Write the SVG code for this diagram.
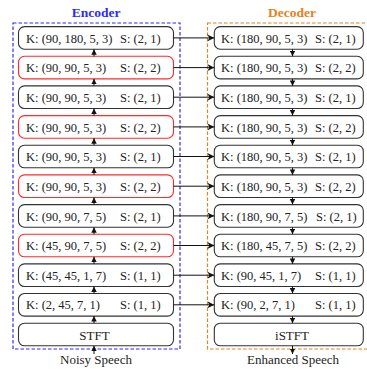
<svg xmlns="http://www.w3.org/2000/svg" width="367" height="369" viewBox="0 0 367 369">
  <defs>
    <style>
      .t { font-family: "Liberation Serif", "DejaVu Serif", serif; font-size: 12.5px; fill: #222; }
      .lbl { font-family: "Liberation Serif", "DejaVu Serif", serif; font-size: 13px; fill: #222; text-anchor: middle; }
      .ttl { font-family: "Liberation Serif", "DejaVu Serif", serif; font-size: 13.5px; font-weight: bold; text-anchor: middle; }
      .nb { fill: #fff; stroke: #333; stroke-width: 1.1; }
      .nr { fill: #fff; stroke: #ff2a2a; stroke-width: 1.1; }
      .c { stroke: #111; stroke-width: 1; fill: none; }
    </style>
    <marker id="hs" viewBox="0 0 10 10" refX="10" refY="5" markerWidth="7" markerHeight="7" markerUnits="userSpaceOnUse" orient="auto">
      <path d="M0,0 L10,5 L0,10 L3,5 Z" fill="#111"/>
    </marker>
    <marker id="hv" viewBox="0 0 10 10" refX="10" refY="5" markerWidth="5.5" markerHeight="5.5" markerUnits="userSpaceOnUse" orient="auto">
      <path d="M0,0 L10,5 L0,10 Z" fill="#111"/>
    </marker>
  </defs>

  <!-- section frames -->
  <g id="encoder-frame">
    <rect x="13" y="23" width="167" height="326" fill="none" stroke="#2b2bff" stroke-width="1.2" stroke-dasharray="3.5 2"/>
    <text class="ttl" x="96" y="17" fill="#2b2bff">Encoder</text>
  </g>
  <g id="decoder-frame">
    <rect x="207.5" y="23" width="170" height="326" fill="none" stroke="#e8801e" stroke-width="1.2" stroke-dasharray="3.5 2"/>
    <text class="ttl" x="292" y="17" fill="#e8801e">Decoder</text>
  </g>

  <!-- encoder layers -->
  <g id="enc0"><rect class="nb" x="18.5" y="26.6" width="155" height="22.6" rx="6"/><text class="t" x="26" y="42.5">K: (90, 180, 5, 3)</text><text class="t" x="120" y="42.5">S: (2, 1)</text></g>
  <g id="enc1"><rect class="nr" x="18.5" y="56.3" width="155" height="22.6" rx="6"/><text class="t" x="26" y="72.2">K: (90, 90, 5, 3)</text><text class="t" x="120" y="72.2">S: (2, 2)</text></g>
  <g id="enc2"><rect class="nb" x="18.5" y="85.9" width="155" height="22.6" rx="6"/><text class="t" x="26" y="101.8">K: (90, 90, 5, 3)</text><text class="t" x="120" y="101.8">S: (2, 1)</text></g>
  <g id="enc3"><rect class="nr" x="18.5" y="115.6" width="155" height="22.6" rx="6"/><text class="t" x="26" y="131.5">K: (90, 90, 5, 3)</text><text class="t" x="120" y="131.5">S: (2, 2)</text></g>
  <g id="enc4"><rect class="nb" x="18.5" y="145.2" width="155" height="22.6" rx="6"/><text class="t" x="26" y="161.1">K: (90, 90, 5, 3)</text><text class="t" x="120" y="161.1">S: (2, 1)</text></g>
  <g id="enc5"><rect class="nr" x="18.5" y="174.9" width="155" height="22.6" rx="6"/><text class="t" x="26" y="190.8">K: (90, 90, 5, 3)</text><text class="t" x="120" y="190.8">S: (2, 2)</text></g>
  <g id="enc6"><rect class="nb" x="18.5" y="204.6" width="155" height="22.6" rx="6"/><text class="t" x="26" y="220.5">K: (90, 90, 7, 5)</text><text class="t" x="120" y="220.5">S: (2, 1)</text></g>
  <g id="enc7"><rect class="nr" x="18.5" y="234.2" width="155" height="22.6" rx="6"/><text class="t" x="26" y="250.1">K: (45, 90, 7, 5)</text><text class="t" x="120" y="250.1">S: (2, 2)</text></g>
  <g id="enc8"><rect class="nb" x="18.5" y="263.9" width="155" height="22.6" rx="6"/><text class="t" x="26" y="279.8">K: (45, 45, 1, 7)</text><text class="t" x="120" y="279.8">S: (1, 1)</text></g>
  <g id="enc9"><rect class="nb" x="18.5" y="293.5" width="155" height="22.6" rx="6"/><text class="t" x="26" y="309.4">K: (2, 45, 7, 1)</text><text class="t" x="120" y="309.4">S: (1, 1)</text></g>
  <g id="stft"><rect class="nb" x="18.5" y="323.2" width="155" height="22.6" rx="6"/><text class="lbl" x="94.5" y="339.5" font-size="14">STFT</text></g>

  <!-- decoder layers -->
  <g id="dec0"><rect class="nb" x="214.3" y="26.6" width="149" height="22.6" rx="6"/><text class="t" x="221" y="42.5">K: (180, 90, 5, 3)</text><text class="t" x="315" y="42.5">S: (2, 1)</text></g>
  <g id="dec1"><rect class="nb" x="214.3" y="56.3" width="149" height="22.6" rx="6"/><text class="t" x="221" y="72.2">K: (180, 90, 5, 3)</text><text class="t" x="315" y="72.2">S: (2, 2)</text></g>
  <g id="dec2"><rect class="nb" x="214.3" y="85.9" width="149" height="22.6" rx="6"/><text class="t" x="221" y="101.8">K: (180, 90, 5, 3)</text><text class="t" x="315" y="101.8">S: (2, 1)</text></g>
  <g id="dec3"><rect class="nb" x="214.3" y="115.6" width="149" height="22.6" rx="6"/><text class="t" x="221" y="131.5">K: (180, 90, 5, 3)</text><text class="t" x="315" y="131.5">S: (2, 2)</text></g>
  <g id="dec4"><rect class="nb" x="214.3" y="145.2" width="149" height="22.6" rx="6"/><text class="t" x="221" y="161.1">K: (180, 90, 5, 3)</text><text class="t" x="315" y="161.1">S: (2, 1)</text></g>
  <g id="dec5"><rect class="nb" x="214.3" y="174.9" width="149" height="22.6" rx="6"/><text class="t" x="221" y="190.8">K: (180, 90, 5, 3)</text><text class="t" x="315" y="190.8">S: (2, 2)</text></g>
  <g id="dec6"><rect class="nb" x="214.3" y="204.6" width="149" height="22.6" rx="6"/><text class="t" x="221" y="220.5">K: (180, 90, 7, 5)</text><text class="t" x="316" y="220.5">S: (2, 1)</text></g>
  <g id="dec7"><rect class="nb" x="214.3" y="234.2" width="149" height="22.6" rx="6"/><text class="t" x="221" y="250.1">K: (180, 45, 7, 5)</text><text class="t" x="315" y="250.1">S: (2, 2)</text></g>
  <g id="dec8"><rect class="nb" x="214.3" y="263.9" width="149" height="22.6" rx="6"/><text class="t" x="221" y="279.8">K: (90, 45, 1, 7)</text><text class="t" x="315" y="279.8">S: (1, 1)</text></g>
  <g id="dec9"><rect class="nb" x="214.3" y="293.5" width="149" height="22.6" rx="6"/><text class="t" x="221" y="309.4">K: (90, 2, 7, 1)</text><text class="t" x="315" y="309.4">S: (1, 1)</text></g>
  <g id="istft"><rect class="nb" x="214.3" y="323.2" width="149" height="22.6" rx="6"/><text class="lbl" x="292" y="339.5" font-size="14">iSTFT</text></g>

  <!-- io labels -->
  <g id="in-label"><text class="lbl" x="96" y="363.5">Noisy Speech</text></g>
  <g id="out-label"><text class="lbl" x="293" y="363.5">Enhanced Speech</text></g>

  <!-- connectors -->
  <g id="connectors">
    <!-- skip links encoder -> decoder -->
    <g marker-end="url(#hs)" class="c">
      <path class="c" d="M173.5,37.9 H214.3"/>
      <path class="c" d="M173.5,67.6 H214.3"/>
      <path class="c" d="M173.5,97.2 H214.3"/>
      <path class="c" d="M173.5,126.9 H214.3"/>
      <path class="c" d="M173.5,156.5 H214.3"/>
      <path class="c" d="M173.5,186.2 H214.3"/>
      <path class="c" d="M173.5,215.9 H214.3"/>
      <path class="c" d="M173.5,245.5 H214.3"/>
      <path class="c" d="M173.5,275.2 H214.3"/>
      <path class="c" d="M173.5,304.8 H214.3"/>
    </g>
    <!-- encoder upward flow -->
    <g marker-end="url(#hv)" class="c">
      <path class="c" d="M94,56.3 V49.2"/>
      <path class="c" d="M94,85.9 V78.9"/>
      <path class="c" d="M94,115.6 V108.5"/>
      <path class="c" d="M94,145.2 V138.2"/>
      <path class="c" d="M94,174.9 V167.8"/>
      <path class="c" d="M94,204.6 V197.5"/>
      <path class="c" d="M94,234.2 V227.2"/>
      <path class="c" d="M94,263.9 V256.8"/>
      <path class="c" d="M94,293.5 V286.5"/>
      <path class="c" d="M94,323.2 V316.1"/>
      <path class="c" d="M94,354 V345.8"/>
    </g>
    <!-- decoder downward flow -->
    <g marker-end="url(#hv)" class="c">
      <path class="c" d="M292.5,49.2 V56.3"/>
      <path class="c" d="M292.5,78.9 V85.9"/>
      <path class="c" d="M292.5,108.5 V115.6"/>
      <path class="c" d="M292.5,138.2 V145.2"/>
      <path class="c" d="M292.5,167.8 V174.9"/>
      <path class="c" d="M292.5,197.5 V204.6"/>
      <path class="c" d="M292.5,227.2 V234.2"/>
      <path class="c" d="M292.5,256.8 V263.9"/>
      <path class="c" d="M292.5,286.5 V293.5"/>
      <path class="c" d="M292.5,316.1 V323.2"/>
      <path class="c" d="M292.5,345.8 V354"/>
    </g>
  </g>
</svg>
